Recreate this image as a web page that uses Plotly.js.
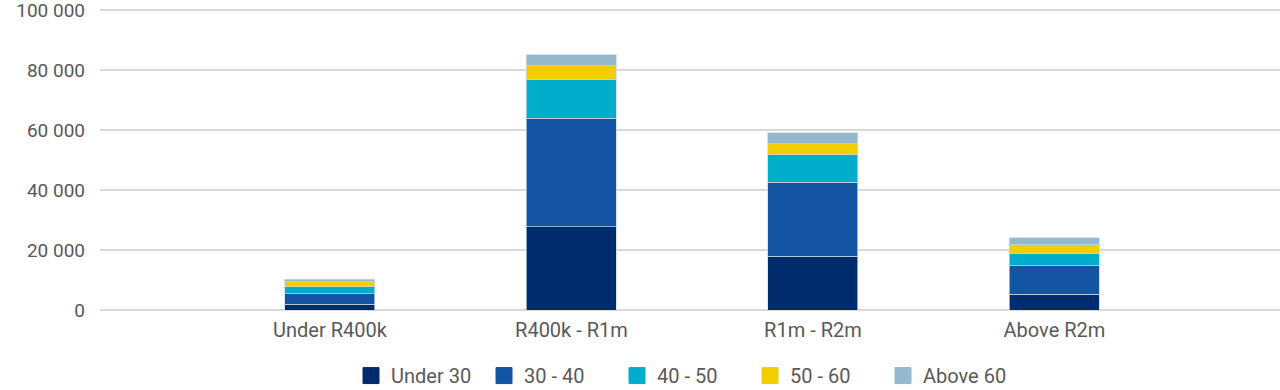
<!DOCTYPE html>
<html>
<head>
<meta charset="utf-8">
<script src="https://cdn.plot.ly/plotly-3.0.1.min.js"></script>
<style>html,body{margin:0;padding:0;background:#fff;}#chart{width:1280px;height:390px;}</style>
</head>
<body>
<div id="chart"></div>
<script>
const categories = ["Under R400k", "R400k - R1m", "R1m - R2m", "Above R2m"];
const seriesNames = ["Under 30", "30 - 40", "40 - 50", "50 - 60", "Above 60"];
const under30 = [2000, 27800, 18000, 5200];
const age30to40 = [3400, 36100, 24600, 9500];
const age40to50 = [2300, 12800, 9100, 4300];
const age50to60 = [1800, 4700, 3700, 2800];
const above60 = [800, 3700, 3700, 2300];
const colors = ["#002B6C", "#1354A5", "#00AECB", "#F2CD00", "#94B8CC"];

const values = [under30, age30to40, age40to50, age50to60, above60];
const bars = values.map((v, i) => ({
  type: "bar",
  name: seriesNames[i],
  x: categories,
  y: v,
  width: 0.373,
  showlegend: false,
  marker: {color: colors[i], line: {color: "rgba(200,215,235,0.7)", width: 1}},
  hoverinfo: "x+y+name"
}));
// legend-only entries with larger square swatches
const legendItems = seriesNames.map((n, i) => ({
  type: "scatter",
  mode: "markers",
  name: n,
  x: [null],
  y: [null],
  showlegend: true,
  marker: {symbol: "square", size: 16, color: colors[i], line: {color: colors[i], width: 1}},
  hoverinfo: "skip"
}));

const layout = {
  width: 1280,
  height: 390,
  barmode: "stack",
  separators: ". ",
  paper_bgcolor: "#ffffff",
  plot_bgcolor: "#ffffff",
  margin: {l: 100, r: 0, t: 6, b: 80},
  font: {family: "Roboto, Open Sans, sans-serif", color: "#595959", size: 19},
  xaxis: {
    type: "category",
    range: [-0.952, 3.934],
    showgrid: false,
    showline: false,
    zeroline: false,
    ticks: "",
    ticklabelstandoff: 6,
    tickfont: {size: 20, color: "#595959"}
  },
  yaxis: {
    range: [0, 101333],
    tickvals: [0, 20000, 40000, 60000, 80000, 100000],
    tickformat: ",d",
    showgrid: true,
    gridcolor: "#d9d9d9",
    gridwidth: 1.5,
    zeroline: true,
    zerolinecolor: "#d9d9d9",
    zerolinewidth: 1.5,
    showline: false,
    ticklabelstandoff: 14,
    ticklabeloverflow: "allow",
    tickfont: {size: 19, color: "#595959"}
  },
  showlegend: true,
  legend: {
    orientation: "h",
    xref: "container",
    yref: "container",
    x: 0.534,
    xanchor: "center",
    y: 0.087,
    yanchor: "top",
    font: {size: 20, color: "#595959"},
    itemwidth: 30,
    entrywidth: 88,
    entrywidthmode: "pixels",
    traceorder: "normal"
  }
};

Plotly.newPlot("chart", bars.concat(legendItems), layout, {displayModeBar: false, staticPlot: true});
</script>
</body>
</html>
